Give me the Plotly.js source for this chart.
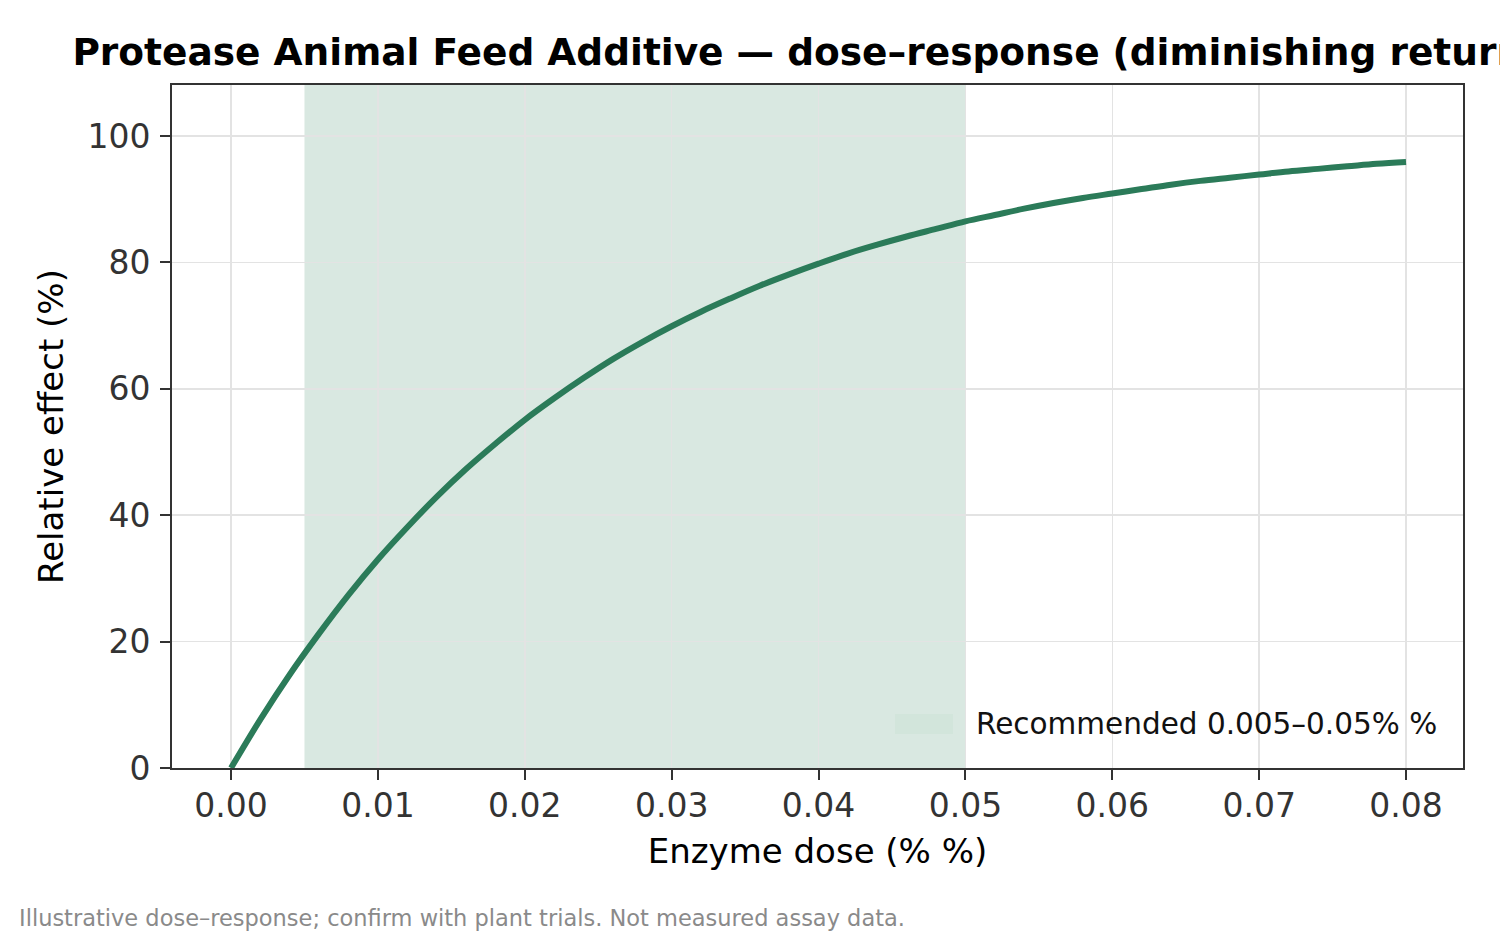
<!DOCTYPE html>
<html>
<head>
<meta charset="utf-8">
<script src="https://cdn.plot.ly/plotly-3.0.1.min.js"></script>
<style>html,body{margin:0;padding:0;background:#fff;}#chart{width:1500px;height:937px;}</style>
</head>
<body>
<div id="chart"></div>
<script>
// Dose (% w/w) sampled along the curve
const doses = [0.000,0.002,0.004,0.006,0.008,0.010,0.012,0.014,0.016,0.018,0.020,0.022,0.024,0.026,0.028,0.030,0.032,0.034,0.036,0.038,0.040,0.042,0.044,0.046,0.048,0.050,0.052,0.054,0.056,0.058,0.060,0.062,0.064,0.066,0.068,0.070,0.072,0.074,0.076,0.078,0.080];
// Relative effect (%)
const effect = [0.0,7.7,14.8,21.3,27.4,33.0,38.1,42.9,47.3,51.3,55.1,58.5,61.7,64.7,67.4,69.9,72.2,74.3,76.3,78.1,79.8,81.4,82.8,84.1,85.3,86.5,87.5,88.5,89.4,90.2,90.9,91.6,92.3,92.9,93.4,93.9,94.4,94.8,95.2,95.6,95.9];
// Recommended dose window
const recRange = [0.005, 0.05];
const recLabel = "Recommended 0.005–0.05% %";
const xTicks = [0.00,0.01,0.02,0.03,0.04,0.05,0.06,0.07,0.08];
const xTickText = ["0.00","0.01","0.02","0.03","0.04","0.05","0.06","0.07","0.08"];
const yTicks = [0,20,40,60,80,100];

const FONT = "DejaVu Sans, sans-serif";
const bandColor = "rgba(46,125,91,0.18)";
const patchColor = "#d2e5db";
const lineColor = "#2b7b59";

const traces = [
  {
    x: doses, y: effect, type: "scatter", mode: "lines",
    line: {color: lineColor, width: 6, shape: "spline", smoothing: 1},
    showlegend: false, name: "Dose–response"
  }
];

// Legend (patch + label) placed in the plot's lower-right corner, paper coordinates
const P = {l: 172, r: 1463, t: 85, b: 768};
const px2x = v => (v - P.l) / (P.r - P.l);
const px2y = v => (P.b - v) / (P.b - P.t);

const layout = {
  width: 1500, height: 937,
  paper_bgcolor: "#ffffff", plot_bgcolor: "#ffffff",
  margin: {l: 172, r: 37, t: 85, b: 169, pad: 0},
  font: {family: FONT, color: "#333333", size: 26},
  showlegend: false,
  title: {
    text: "<b>Protease Animal Feed Additive — dose–response (diminishing returns)</b>",
    font: {family: FONT, size: 37.5, color: "#000000"},
    x: 0.5, xref: "paper", xanchor: "center",
    y: 1 - 52/937, yref: "container", yanchor: "middle"
  },
  xaxis: {
    range: [-0.00402, 0.08388],
    tickvals: xTicks, ticktext: xTickText,
    showgrid: true, gridcolor: "#e3e3e3", gridwidth: 1.5,
    zeroline: false,
    showline: true, linecolor: "#333333", linewidth: 2, mirror: true,
    ticks: "outside", ticklen: 10, tickwidth: 2, tickcolor: "#333333",
    ticklabelstandoff: -3,
    tickfont: {family: FONT, size: 33, color: "#333333"},
    title: {text: "Enzyme dose (% %)", font: {family: FONT, size: 34, color: "#000000"}, standoff: 16}
  },
  yaxis: {
    range: [0, 108.07],
    tickvals: yTicks,
    showgrid: true, gridcolor: "#e3e3e3", gridwidth: 1.5,
    zeroline: false,
    showline: true, linecolor: "#333333", linewidth: 2, mirror: true,
    ticks: "outside", ticklen: 10, tickwidth: 2, tickcolor: "#333333",
    ticklabelstandoff: 3,
    tickfont: {family: FONT, size: 33, color: "#333333"},
    title: {text: "Relative effect (%)", font: {family: FONT, size: 34, color: "#000000"}, standoff: 14}
  },
  shapes: [
    {type: "rect", xref: "x", yref: "paper", x0: recRange[0], x1: recRange[1], y0: 0, y1: 1,
     fillcolor: bandColor, line: {width: 0}, layer: "below"},
    {type: "rect", xref: "paper", yref: "paper", x0: px2x(895), x1: px2x(953), y0: px2y(734), y1: px2y(714),
     fillcolor: patchColor, line: {width: 0}, layer: "above"}
  ],
  annotations: [
    {text: recLabel, xref: "paper", yref: "paper", x: px2x(974), y: px2y(724),
     xanchor: "left", yanchor: "middle", showarrow: false,
     font: {family: FONT, size: 29.5, color: "#111111"}},
    {text: "Illustrative dose–response; confirm with plant trials. Not measured assay data.",
     xref: "paper", yref: "paper", x: px2x(17), y: px2y(918),
     xanchor: "left", yanchor: "middle", showarrow: false,
     font: {family: FONT, size: 22.5, color: "#8a8a8a"}}
  ]
};

Plotly.newPlot("chart", traces, layout, {displayModeBar: false, staticPlot: true});
</script>
</body>
</html>
